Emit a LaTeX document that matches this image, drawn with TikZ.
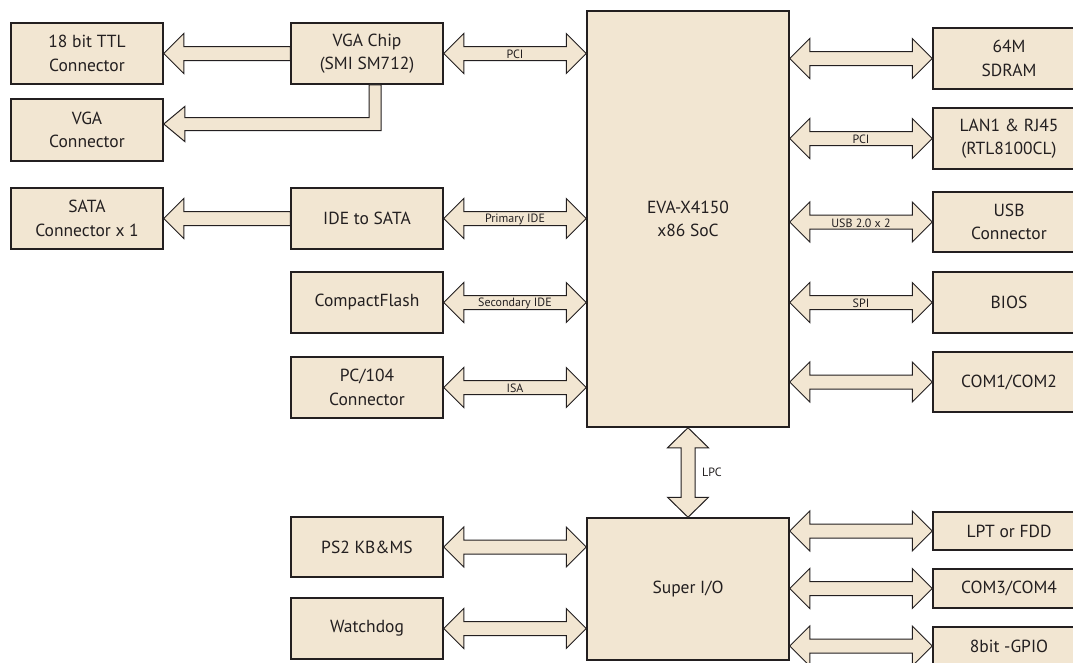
\documentclass[tikz,border=0pt]{standalone}
\usepackage{fontspec}
\setmainfont{PT Sans}
\usetikzlibrary{calc}
\definecolor{boxfill}{RGB}{242,230,210}
\definecolor{edge}{RGB}{35,31,32}
% horizontal double arrow: #1 left tip, #2 right tip, #3 label
\newcommand\hdarrow[3]{%
  \path[arr] let \p1=(#1), \p2=(#2) in
    (\x1,\y1) -- (\x1+20pt,\y1+20pt) -- (\x1+20pt,\y1+7pt) -- (\x2-20pt,\y1+7pt)
    -- (\x2-20pt,\y1+20pt) -- (\x2,\y1) -- (\x2-20pt,\y1-20pt) -- (\x2-20pt,\y1-7pt)
    -- (\x1+20pt,\y1-7pt) -- (\x1+20pt,\y1-20pt) -- cycle
    node[lbl] at ({(\x1+\x2)/2},\y1-1pt) {#3};}
% left-pointing single arrow: #1 tip, #2 tail
\newcommand\lsarrow[2]{%
  \path[arr] let \p1=(#1), \p2=(#2) in
    (\x1,\y1) -- (\x1+20pt,\y1+20pt) -- (\x1+20pt,\y1+7pt) -- (\x2,\y1+7pt)
    -- (\x2,\y1-7pt) -- (\x1+20pt,\y1-7pt) -- (\x1+20pt,\y1-20pt) -- cycle;}
\begin{document}
\begin{tikzpicture}[x=1pt,y=-1pt,
  blk/.style={draw=edge, line width=1.5pt, fill=boxfill, inner sep=0pt, align=center,
    text=edge, font=\fontsize{17.5}{23.5}\selectfont, minimum width=152pt},
  arr/.style={draw=edge, line width=1pt, fill=boxfill, line join=miter},
  lbl/.style={font=\fontsize{12}{13}\selectfont, text=edge, inner sep=0pt}]
\path[use as bounding box] (0,0) rectangle (1073,662);
\clip (0,0) rectangle (1073,662);

% left column
\node[blk, minimum height=61pt] (ttl) at (87,53.5) {18 bit TTL\\Connector};
\node[blk, minimum height=62pt] (vgacon) at (87,130) {VGA\\Connector};
\node[blk, minimum height=61pt] (sata) at (87,218.5) {SATA\\Connector x 1};

% middle column
\node[blk, minimum height=61pt] (vga) at (367,53.5) {VGA Chip\\(SMI SM712)};
\node[blk, minimum height=61pt] (ide) at (367,218.5) {IDE to SATA};
\node[blk, minimum height=61pt] (cf) at (367,302.5) {CompactFlash};
\node[blk, minimum height=61pt] (pc104) at (367,387.5) {PC/104\\Connector};
\node[blk, minimum height=60pt] (ps2) at (367,547) {PS2 KB\&MS};
\node[blk, minimum height=61pt] (wdt) at (367,628.5) {Watchdog};

% centre
\node[blk, minimum width=202pt, minimum height=416pt] (soc) at (688,219) {EVA-X4150\\x86 SoC};
\node[blk, minimum width=202pt, minimum height=142pt] (sio) at (688,589) {Super I/O};

% right column
\node[blk, minimum height=61pt] (ram) at (1009,58.5) {64M\\SDRAM};
\node[blk, minimum height=61pt] (lan) at (1009,138.5) {LAN1 \& RJ45\\(RTL8100CL)};
\node[blk, minimum height=60pt] (usb) at (1009,222) {USB\\Connector};
\node[blk, minimum height=61pt] (bios) at (1009,302.5) {BIOS};
\node[blk, minimum height=60pt] (com12) at (1009,382) {COM1/COM2};
\node[blk, minimum height=38pt] (lpt) at (1009,531) {LPT or FDD};
\node[blk, minimum height=39pt] (com34) at (1009,588.5) {COM3/COM4};
\node[blk, minimum height=38pt] (gpio) at (1009,646) {8bit -GPIO};

% single arrows to the left column
\lsarrow{ttl.east}{vga.west}
\lsarrow{sata.east}{ide.west}
\path[arr] let \p1=($(vgacon.east)+(0,-6)$), \p2=(vga.south) in
  (\x1,\y1) -- (\x1+21pt,\y1+17.5pt) -- (\x1+21pt,\y1+6.5pt) -- (\x2+2pt,\y1+6.5pt)
  -- (\x2+2pt,\y2) -- (\x2+14pt,\y2) -- (\x2+14pt,\y1-6.5pt) -- (\x1+21pt,\y1-6.5pt)
  -- (\x1+21pt,\y1-17.5pt) -- cycle;

% double arrows to the SoC
\hdarrow{vga.east}{soc.west |- vga.east}{PCI}
\hdarrow{ide.east}{soc.west |- ide.east}{Primary IDE}
\hdarrow{cf.east}{soc.west |- cf.east}{Secondary IDE}
\hdarrow{pc104.east}{soc.west |- pc104.east}{ISA}
\hdarrow{soc.east |- ram.west}{ram.west}{}
\hdarrow{soc.east |- lan.west}{lan.west}{PCI}
\hdarrow{soc.east |- usb.west}{usb.west}{USB 2.0 x 2}
\hdarrow{soc.east |- bios.west}{bios.west}{SPI}
\hdarrow{soc.east |- com12.west}{com12.west}{}

% Super I/O arrows
\hdarrow{ps2.east}{sio.west |- ps2.east}{}
\hdarrow{wdt.east}{sio.west |- wdt.east}{}
\hdarrow{sio.east |- lpt.west}{lpt.west}{}
\hdarrow{sio.east |- com34.west}{com34.west}{}
\hdarrow{sio.east |- gpio.west}{gpio.west}{}

% LPC
\path[arr] let \p1=(soc.south), \p2=(sio.north) in
  (\x1,\y1) -- (\x1+20.5pt,\y1-20pt) -- (\x1+7pt,\y1-20pt) -- (\x1+7pt,\y2+20pt)
  -- (\x1+20.5pt,\y2+20pt) -- (\x1,\y2) -- (\x1-20.5pt,\y2+20pt) -- (\x1-7pt,\y2+20pt)
  -- (\x1-7pt,\y1-20pt) -- (\x1-20.5pt,\y1-20pt) -- cycle;
\node[lbl, anchor=west] (lpc) at ($(soc.south)!0.5!(sio.north)+(14,0)$) {LPC};
\end{tikzpicture}
\end{document}
